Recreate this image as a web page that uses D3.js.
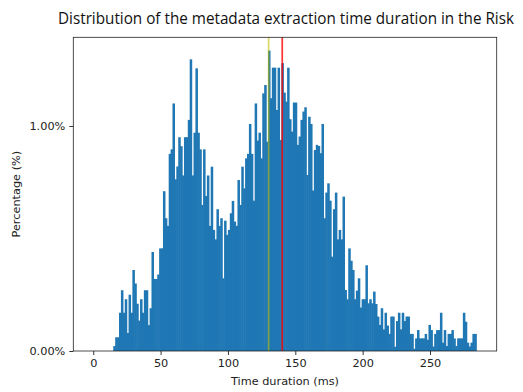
<!DOCTYPE html>
<html>
<head>
<meta charset="utf-8">
<script src="https://cdn.jsdelivr.net/npm/d3@7"></script>
<style>
  body { margin: 0; background: #fff; }
  svg { display: block; }
</style>
</head>
<body>
<div id="chart"></div>
<script>
// Histogram of metadata extraction time (200 bins), values in percent

const binStart = 0.7;
const binWidth = 1.418;

const percentages = [
  0, 0, 0, 0, 0, 0, 0, 0, 0, 0,
  0.022, 0.061, 0.061, 0.17, 0.27, 0.17, 0.23, 0.08, 0.25, 0.17,
  0.36, 0.30, 0.21, 0.135, 0.23, 0.17, 0.27, 0.27, 0.115, 0.19,
  0.44, 0.32, 0.32, 0.34, 0.456, 0.456, 0.71, 0.59, 0.556, 0.876,
  0.896, 1.10, 0.763, 0.82, 0.95, 0.91, 0.78, 0.95, 0.95, 1.027,
  1.296, 0.78, 0.97, 1.256, 0.97, 0.896, 0.649, 0.896, 0.689, 0.78,
  0.556, 0.819, 0.538, 0.496, 0.63, 0.556, 0.59, 0.323, 0.579, 0.516,
  0.538, 0.612, 0.667, 0.575, 0.556, 0.76, 0.649, 0.819, 0.723, 0.856,
  0.876, 1.009, 0.876, 0.668, 1.10, 0.935, 0.97, 0.856, 1.145, 1.182,
  0.93, 1.335, 1.123, 1.259, 1.259, 1.071, 1.259, 0.938, 1.279, 1.148,
  1.108, 1.259, 1.03, 0.975, 1.104, 1.104, 0.916, 0.953, 1.027, 1.064,
  1.083, 0.782, 1.041, 1.009, 0.713, 0.893, 0.916, 0.911, 0.879, 1.009,
  0.59, 0.704, 0.745, 0.668, 0.419, 0.63, 0.704, 0.496, 0.538, 0.496,
  0.686, 0.271, 0.23, 0.456, 0.401, 0.36, 0.23, 0.268, 0.323, 0.193,
  0.23, 0.23, 0.381, 0.212, 0.23, 0.212, 0.264, 0.209, 0.153, 0.116,
  0.19, 0.096, 0.17, 0.113, 0.076, 0.153, 0.153, 0.019, 0.133, 0.17,
  0.096, 0.17, 0.133, 0.153, 0.153, 0.076, 0.076, 0.01, 0.056, 0.093,
  0.056, 0.056, 0.056, 0.076, 0.05, 0.116, 0.093, 0.02, 0.076, 0.093,
  0.093, 0.17, 0.037, 0.093, 0.022, 0.076, 0.076, 0.093, 0.056, 0.022,
  0.056, 0.056, 0.056, 0.17, 0.13, 0.037, 0.02, 0.037, 0.076, 0.076
];

const xTicks = [0, 50, 100, 150, 200, 250];
const yTicks = [0, 1];

// vertical marker lines (ms)
const markers = [
  { value: 130.2, color: '#bfbf00', opacity: 0.6 },
  { value: 140.3, color: '#ff0000', opacity: 0.8 }
];

const titleText = 'Distribution of the metadata extraction time duration in the Risk';
const xLabel = 'Time duration (ms)';
const yLabel = 'Percentage (%)';

// Dimensions
const W = 523, H = 392;
const plot = { left: 73.3, right: 496.7, top: 37.3, bottom: 351 };

const svg = d3.select('#chart')
    .append('svg')
    .attr('width', W)
    .attr('height', H);

// Scales
const xScale = d3.scaleLinear()
    .domain([-14.8, 299.5])
    .range([plot.left, plot.right]);

const yScale = d3.scaleLinear()
    .domain([0, 1.394])
    .range([plot.bottom, plot.top]);

const bins = percentages.map((p, i) => ({
    x0: binStart + i * binWidth,
    x1: binStart + (i + 1) * binWidth,
    p: p
})).filter(d => d.p > 0);

// Bars (slight overlap hides anti-aliasing seams between neighbours)
svg.append('g')
    .selectAll('rect')
    .data(bins)
    .enter()
    .append('rect')
    .attr('x', d => xScale(d.x0))
    .attr('y', d => yScale(d.p))
    .attr('width', d => xScale(d.x1) - xScale(d.x0) + 0.6)
    .attr('height', d => yScale(0) - yScale(d.p))
    .attr('fill', '#1f77b4');

// Marker lines
svg.append('g')
    .selectAll('line')
    .data(markers)
    .enter()
    .append('line')
    .attr('x1', d => xScale(d.value))
    .attr('x2', d => xScale(d.value))
    .attr('y1', plot.top)
    .attr('y2', plot.bottom)
    .attr('stroke', d => d.color)
    .attr('stroke-opacity', d => d.opacity)
    .attr('stroke-width', 1.7);

// Axes
const xAxis = d3.axisBottom(xScale)
    .tickValues(xTicks)
    .tickSize(4)
    .tickPadding(4)
    .tickFormat(d3.format('d'));

const yAxis = d3.axisLeft(yScale)
    .tickValues(yTicks)
    .tickSize(4)
    .tickPadding(4)
    .tickFormat(d => d3.format('.2f')(d) + '%');

const gx = svg.append('g')
    .attr('transform', `translate(0, ${plot.bottom})`)
    .call(xAxis);

const gy = svg.append('g')
    .attr('transform', `translate(${plot.left}, 0)`)
    .call(yAxis);

[gx, gy].forEach(g => {
    g.select('.domain').remove();
    g.selectAll('.tick line').attr('stroke', '#000').attr('stroke-width', 0.8);
    g.selectAll('.tick text')
        .attr('fill', '#222')
        .style('font-family', '"DejaVu Sans", sans-serif')
        .style('font-size', '11.3px');
});

// Frame
svg.append('rect')
    .attr('x', plot.left)
    .attr('y', plot.top)
    .attr('width', plot.right - plot.left)
    .attr('height', plot.bottom - plot.top)
    .attr('fill', 'none')
    .attr('stroke', '#222')
    .attr('stroke-width', 0.8);

// Labels
svg.append('text')
    .attr('x', (plot.left + plot.right) / 2)
    .attr('y', 385)
    .attr('text-anchor', 'middle')
    .attr('fill', '#222')
    .style('font-family', '"DejaVu Sans", sans-serif')
    .style('font-size', '11.3px')
    .text(xLabel);

svg.append('text')
    .attr('transform', 'rotate(-90)')
    .attr('x', -(plot.top + plot.bottom) / 2)
    .attr('y', 20)
    .attr('text-anchor', 'middle')
    .attr('fill', '#222')
    .style('font-family', '"DejaVu Sans", sans-serif')
    .style('font-size', '11.3px')
    .text(yLabel);

svg.append('text')
    .attr('x', 58)
    .attr('y', 24)
    .attr('fill', '#111')
    .attr('textLength', 456)
    .attr('lengthAdjust', 'spacingAndGlyphs')
    .style('font-family', '"Open Sans", sans-serif')
    .style('font-size', '15.5px')
    .text(titleText);
</script>
</body>
</html>
